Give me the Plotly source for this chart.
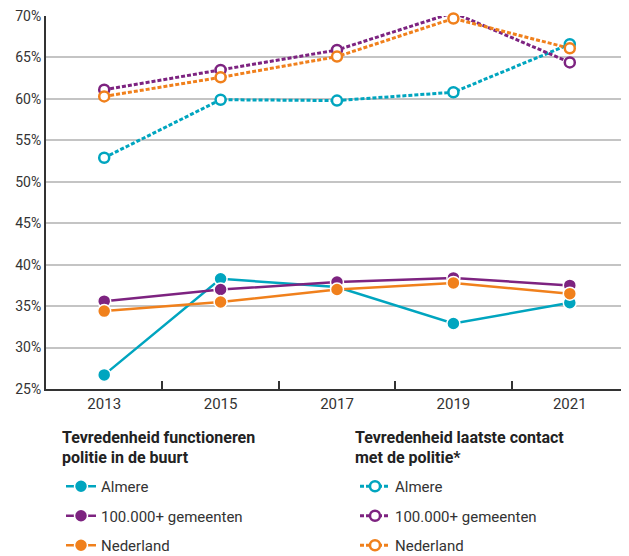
import plotly.graph_objects as go

years = ["2013", "2015", "2017", "2019", "2021"]
series_names = ["Almere", "100.000+ gemeenten", "Nederland"]

# Tevredenheid functioneren politie in de buurt (solid, filled markers)
buurt_almere = [26.7, 38.3, 37.3, 32.9, 35.4]
buurt_100k = [35.6, 37.0, 37.9, 38.4, 37.5]
buurt_nl = [34.4, 35.5, 37.0, 37.8, 36.5]

# Tevredenheid laatste contact met de politie* (dotted, open markers)
contact_almere = [52.9, 59.9, 59.8, 60.8, 66.6]
contact_100k = [61.1, 63.5, 65.9, 70.4, 64.4]
contact_nl = [60.3, 62.6, 65.1, 69.7, 66.1]

legend_titles = [
    ["Tevredenheid functioneren", "politie in de buurt"],
    ["Tevredenheid laatste contact", "met de politie*"],
]

colors = ["#00A5BF", "#7D2380", "#F0801C"]
FONT = "Roboto"

# page body adds an 8px offset; figure is sized to fit the window
W, H = 621, 548
PL, PT, PW, PH = 38, 8, 582, 373

fig = go.Figure()

for name, vals, col in zip(series_names, [buurt_almere, buurt_100k, buurt_nl], colors):
    fig.add_trace(go.Scatter(
        x=years, y=vals, name=name, mode="lines+markers", cliponaxis=False,
        line=dict(color=col, width=2.5),
        marker=dict(size=13, color=col, line=dict(color="white", width=1.5)),
        legend="legend", legendgroup="b" + name,
    ))

for name, vals, col in zip(series_names, [contact_almere, contact_100k, contact_nl], colors):
    fig.add_trace(go.Scatter(
        x=years, y=vals, name=name, mode="lines+markers", cliponaxis=False,
        line=dict(color=col, width=3, dash="4px,2px"),
        marker=dict(size=10, color="white", line=dict(color=col, width=2.5)),
        legend="legend2", legendgroup="c" + name,
    ))

# legend column titles as text
for col_x, lines in zip([52, 345], legend_titles):
    for i, line in enumerate(lines):
        fig.add_annotation(
            text="<b>" + line + "</b>", xref="paper", yref="paper",
            x=(col_x - PL) / PW, y=(PT + PH - (429 + 21 * i)) / PH,
            xanchor="left", yanchor="middle", showarrow=False,
            font=dict(size=16, color="#222", family=FONT),
        )

leg_common = dict(
    yref="container", y=1 - 462 / H, xanchor="left", yanchor="top",
    font=dict(size=15, color="#333"), traceorder="grouped", tracegroupgap=7,
    itemwidth=30, bgcolor="rgba(0,0,0,0)",
)

fig.update_layout(
    width=W, height=H,
    margin=dict(l=PL, r=W - PL - PW, t=PT, b=H - PT - PH, autoexpand=False),
    paper_bgcolor="white", plot_bgcolor="white",
    font=dict(family=FONT, size=14, color="#333333"),
    showlegend=True,
    legend=dict(x=(53 - PL) / PW, xref="paper", **leg_common),
    legend2=dict(x=(347 - PL) / PW, xref="paper", **leg_common),
    xaxis=dict(
        type="category", range=[-0.5, 4.5], tickson="boundaries",
        ticks="inside", ticklen=8, tickwidth=1.5, tickcolor="#333",
        showline=True, linecolor="#333", linewidth=2,
        showgrid=False, tickfont=dict(size=15, color="#333"),
    ),
    yaxis=dict(
        range=[25, 70], dtick=5, ticksuffix="%",
        showline=True, linecolor="#333", linewidth=2,
        showgrid=True, gridcolor="#C4C4C4", gridwidth=2,
        ticks="", tickfont=dict(size=14, color="#333"), zeroline=False,
        ticklabeloverflow="allow",
    ),
)

fig.write_html("out.html")
